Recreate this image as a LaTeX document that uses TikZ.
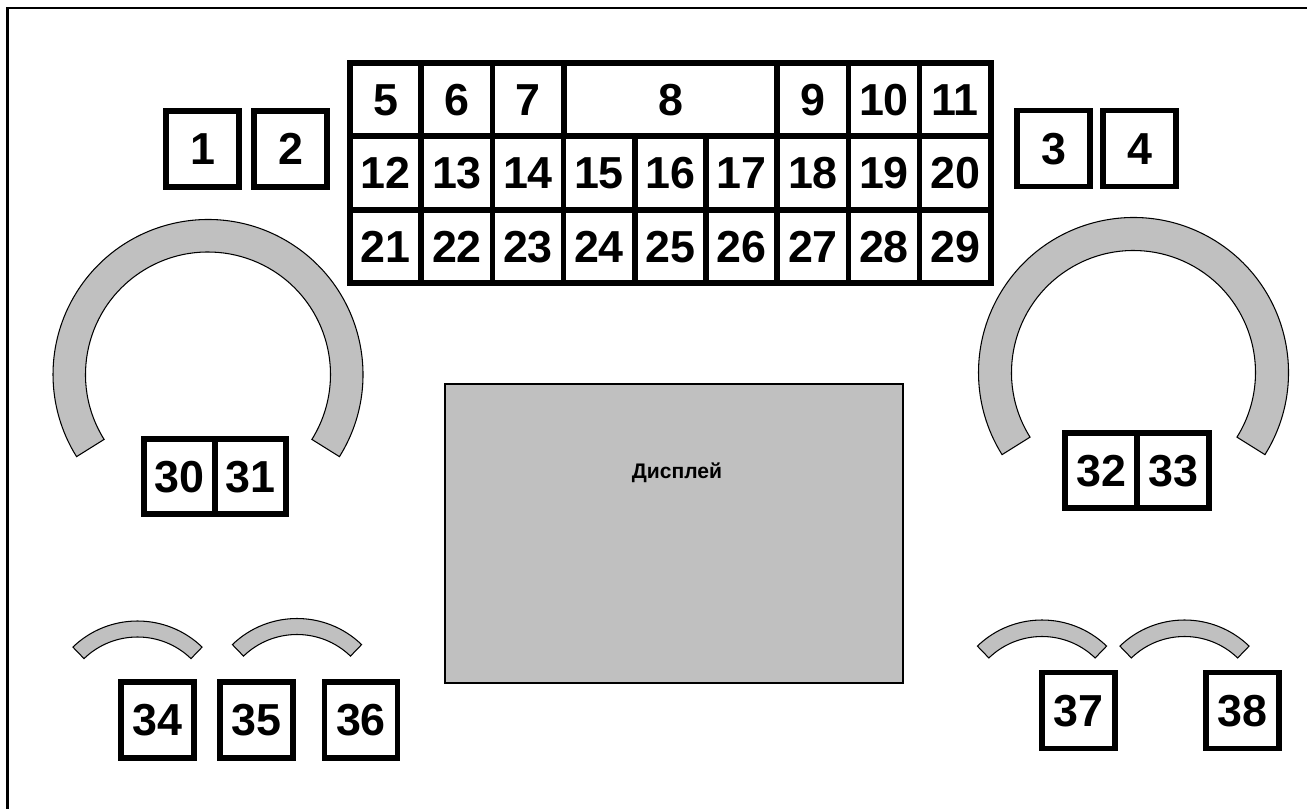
\documentclass[tikz,border=0pt]{standalone}
\usepackage{fontspec}
\setmainfont{Liberation Sans}
\usetikzlibrary{positioning}
\definecolor{panelgray}{RGB}{192,192,192}

\begin{document}
\begin{tikzpicture}[
                    key/.style={rectangle, draw=black, line width=3.3pt, fill=white, minimum width=1.46cm, minimum height=1.52cm, inner sep=0pt, text height=18pt, text depth=0pt, font=\fontsize{25.5}{30}\selectfont\bfseries},
                    cell/.style={key, minimum width=1.424cm, minimum height=1.47cm},
                    pair/.style={key, minimum width=1.43cm, minimum height=1.5cm},
                    screen/.style={rectangle, draw=black, line width=1.2pt, fill=panelgray, minimum width=9.16cm, minimum height=5.98cm},
                    dial/.style={draw=black, line width=0.6pt, fill=panelgray}
                ]

                \useasboundingbox (0, 0) rectangle (26.14, 16.18);

                % Frame (cut at right and bottom)
                \coordinate (frame_tr) at (26.14, 16.02);
                \coordinate (frame_tl) at (0.15, 16.02);
                \coordinate (frame_bl) at (0.15, 0);
                \draw[line width=1.4pt] (frame_tr) -- (frame_tl) -- (frame_bl);

                % Top single keys
                \node (key_1) [key] at (4.05, 13.2) {1};
                \node (key_2) [key] at (5.81, 13.2) {2};
                \node (key_3) [key] at (21.07, 13.21) {3};
                \node (key_4) [key] at (22.79, 13.21) {4};

                % Key block, row 1
                \node (cell_5) [cell] at (7.71, 14.19) {5};
                \node (cell_6) [cell] at (9.14, 14.19) {6};
                \node (cell_7) [cell] at (10.56, 14.19) {7};
                \node (cell_8) [cell, minimum width=4.272cm] at (13.41, 14.19) {8};
                \node (cell_9) [cell] at (16.26, 14.19) {9};
                \node (cell_10) [cell] at (17.68, 14.19) {10};
                \node (cell_11) [cell] at (19.10, 14.19) {11};

                % Key block, row 2
                \node (cell_12) [cell] at (7.71, 12.72) {12};
                \node (cell_13) [cell] at (9.14, 12.72) {13};
                \node (cell_14) [cell] at (10.56, 12.72) {14};
                \node (cell_15) [cell] at (11.98, 12.72) {15};
                \node (cell_16) [cell] at (13.41, 12.72) {16};
                \node (cell_17) [cell] at (14.83, 12.72) {17};
                \node (cell_18) [cell] at (16.26, 12.72) {18};
                \node (cell_19) [cell] at (17.68, 12.72) {19};
                \node (cell_20) [cell] at (19.10, 12.72) {20};

                % Key block, row 3
                \node (cell_21) [cell] at (7.71, 11.25) {21};
                \node (cell_22) [cell] at (9.14, 11.25) {22};
                \node (cell_23) [cell] at (10.56, 11.25) {23};
                \node (cell_24) [cell] at (11.98, 11.25) {24};
                \node (cell_25) [cell] at (13.41, 11.25) {25};
                \node (cell_26) [cell] at (14.83, 11.25) {26};
                \node (cell_27) [cell] at (16.26, 11.25) {27};
                \node (cell_28) [cell] at (17.68, 11.25) {28};
                \node (cell_29) [cell] at (19.10, 11.25) {29};

                % Big dials
                \draw[dial] (4.16, 8.69) ++(-32:3.1) arc[start angle=-32, end angle=212, radius=3.1] -- ++(32:0.65) arc[start angle=212, end angle=-32, radius=2.45] -- cycle;
                \draw[dial] (22.67, 8.73) ++(-32:3.1) arc[start angle=-32, end angle=212, radius=3.1] -- ++(32:0.66) arc[start angle=212, end angle=-32, radius=2.44] -- cycle;

                % Keys under the big dials
                \node (key_30) [pair] at (3.59, 6.65) {30};
                \node (key_31) [pair] at (5.01, 6.65) {31};
                \node (key_32) [pair] at (22.02, 6.77) {32};
                \node (key_33) [pair] at (23.46, 6.77) {33};

                % Display
                \node (display) [screen] at (13.48, 5.51) {};
                \node (display_label) [font=\fontsize{12}{14}\selectfont\bfseries] at (13.54, 6.72) {Дисплей};

                % Small dials
                \draw[dial] (2.75, 1.9) ++(46:1.86) arc[start angle=46, end angle=134, radius=1.86] -- ++(-46:0.32) arc[start angle=134, end angle=46, radius=1.54] -- cycle;
                \draw[dial] (5.94, 1.95) ++(46:1.86) arc[start angle=46, end angle=134, radius=1.86] -- ++(-46:0.32) arc[start angle=134, end angle=46, radius=1.54] -- cycle;
                \draw[dial] (20.84, 1.92) ++(46:1.86) arc[start angle=46, end angle=134, radius=1.86] -- ++(-46:0.33) arc[start angle=134, end angle=46, radius=1.53] -- cycle;
                \draw[dial] (23.69, 1.92) ++(46:1.86) arc[start angle=46, end angle=134, radius=1.86] -- ++(-46:0.33) arc[start angle=134, end angle=46, radius=1.53] -- cycle;

                % Bottom keys
                \node (key_34) [key] at (3.15, 1.78) {34};
                \node (key_35) [key] at (5.13, 1.78) {35};
                \node (key_36) [key] at (7.22, 1.78) {36};
                \node (key_37) [key] at (21.57, 1.97) {37};
                \node (key_38) [key] at (24.85, 1.97) {38};

            \end{tikzpicture}
\end{document}
